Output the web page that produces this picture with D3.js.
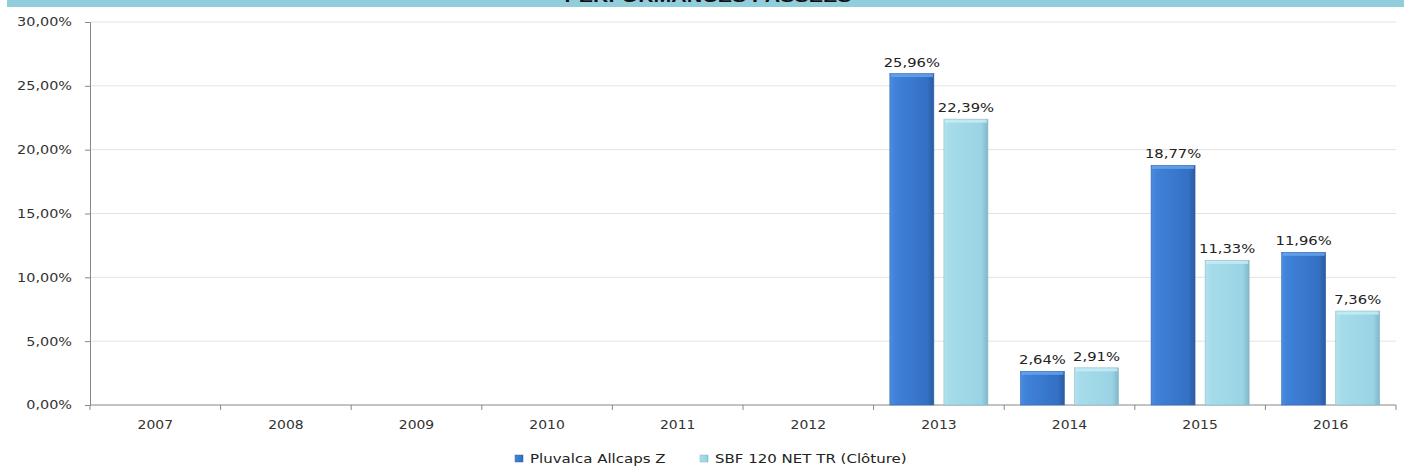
<!DOCTYPE html>
<meta charset="utf-8" />
<script src="https://d3js.org/d3.v7.js"></script>
<style>
  body { margin: 0; background: #fff; }
  text { font-family: "DejaVu Sans", Verdana, sans-serif; fill: #222; }
</style>
<div id="chart"></div>
<script>
  // data
  const years = ["2007", "2008", "2009", "2010", "2011", "2012", "2013", "2014", "2015", "2016"];
  const fund = [null, null, null, null, null, null, 25.96, 2.64, 18.77, 11.96];
  const index = [null, null, null, null, null, null, 22.39, 2.91, 11.33, 7.36];
  const seriesNames = ["Pluvalca Allcaps Z", "SBF 120 NET TR (Clôture)"];
  const yTicks = [0, 5, 10, 15, 20, 25, 30];

  const W = 1404, H = 468;
  const margin = { top: 22, right: 8, bottom: 63, left: 90 };
  const width = W - margin.left - margin.right,
    height = H - margin.top - margin.bottom;

  const svg = d3.select("#chart").append("svg")
    .attr("width", W).attr("height", H);

  // the source picture is stretched sideways, so widen the glyphs a bit.
  // anchor: 0 = start, 0.5 = middle, 1 = end (placed by hand, text-anchor start)
  function stretch(sel, k, anchor) {
    sel.each(function () {
      const t = d3.select(this);
      const len = this.getComputedTextLength();
      const x0 = +t.attr("x") || 0;
      t.attr("text-anchor", "start")
        .attr("x", x0 - anchor * len * k)
        .attr("textLength", len * k).attr("lengthAdjust", "spacingAndGlyphs");
    });
  }

  const defs = svg.append("defs");
  function grad(id, stops) {
    const g = defs.append("linearGradient").attr("id", id)
      .attr("x1", "0").attr("x2", "1").attr("y1", "0").attr("y2", "0");
    stops.forEach(s => g.append("stop").attr("offset", s[0]).attr("stop-color", s[1]));
  }
  grad("gBlue", [[0, "#4a8ce0"], [0.12, "#3f82d9"], [0.85, "#3470c4"], [1, "#2a5a9e"]]);
  grad("gLight", [[0, "#b3e2ee"], [0.12, "#a6dcea"], [0.85, "#9ad4e4"], [1, "#7fb8c8"]]);
  const fills = ["url(#gBlue)", "url(#gLight)"];
  const solid = ["#3b7bd3", "#a0d8e8"];
  const tops = ["#6aa6ec", "#c9eef7"];

  // header band
  svg.append("rect").attr("x", 7).attr("y", 0).attr("width", W - 7).attr("height", 7)
    .attr("fill", "#92cddc");
  svg.append("text").attr("x", 708).attr("y", 2)
    .attr("text-anchor", "middle").style("font-family", "Arial, 'Liberation Sans', sans-serif")
    .style("font-weight", "bold").style("font-size", "17px").style("fill", "#111")
    .attr("textLength", 287).attr("lengthAdjust", "spacingAndGlyphs")
    .text("PERFORMANCES PASSEES");

  const g = svg.append("g").attr("transform", `translate(${margin.left},${margin.top})`);

  const x = d3.scaleBand().domain(years).range([0, width]);
  const y = d3.scaleLinear().domain([0, 30]).range([height, 0]);

  const fmt = v => d3.format(".2f")(v).replace(".", ",") + "%";

  // grid
  g.selectAll(".grid").data(yTicks.slice(1)).join("line")
    .attr("x1", 0).attr("x2", width)
    .attr("y1", d => y(d)).attr("y2", d => y(d))
    .attr("stroke", "#e3e3e3").attr("stroke-width", 1);

  // y axis
  const yAxis = g.append("g")
    .call(d3.axisLeft(y).tickValues(yTicks).tickSize(5).tickPadding(0).tickFormat(v => fmt(v)));
  yAxis.select(".domain").attr("stroke", "#888");
  yAxis.selectAll(".tick line").attr("stroke", "#888");
  yAxis.selectAll("text").attr("x", -18).style("font-size", "12px").style("fill", "#333");
  stretch(yAxis.selectAll("text"), 1.2, 1);

  // x axis
  const xAxis = g.append("g").attr("transform", `translate(0,${height})`);
  xAxis.append("line").attr("x1", 0).attr("x2", width).attr("y1", 0).attr("y2", 0)
    .attr("stroke", "#888");
  xAxis.selectAll(".xt").data(years.concat(["end"])).join("line")
    .attr("x1", (d, i) => i * x.bandwidth()).attr("x2", (d, i) => i * x.bandwidth())
    .attr("y1", 0).attr("y2", 5).attr("stroke", "#888");
  const xl = xAxis.selectAll(".xl").data(years).join("text")
    .attr("x", d => x(d) + x.bandwidth() / 2).attr("y", 24)
    .style("font-size", "12px").style("fill", "#333")
    .text(d => d);
  stretch(xl, 1.16, 0.5);

  // bars
  const bw = x.bandwidth();
  const barW = bw * 0.337, gap = bw * 0.077, pad = (bw - 2 * barW - gap) / 2;
  const x1 = d3.scaleOrdinal().domain([0, 1]).range([pad, pad + barW + gap]);

  [fund, index].forEach((vals, s) => {
    const data = years.map((yr, i) => ({ yr, v: vals[i] })).filter(d => d.v != null);
    const bg = g.append("g");
    bg.selectAll("rect.bar").data(data).join("rect")
      .attr("x", d => x(d.yr) + x1(s)).attr("width", barW)
      .attr("y", d => y(d.v)).attr("height", d => y(0) - y(d.v))
      .attr("fill", fills[s]).attr("stroke", d3.color(solid[s]).darker(0.4)).attr("stroke-width", 0.6);
    bg.selectAll("rect.top").data(data).join("rect")
      .attr("x", d => x(d.yr) + x1(s) + 1).attr("width", barW - 2)
      .attr("y", d => y(d.v) + 0.5).attr("height", 3)
      .attr("fill", tops[s]).attr("opacity", 0.8);
    const lab = bg.selectAll("text").data(data).join("text")
      .attr("x", d => x(d.yr) + x1(s) + barW / 2).attr("y", d => y(d.v) - 7)
      .style("font-size", "12.5px").style("fill", "#222")
      .text(d => fmt(d.v));
    stretch(lab, 1.18, 0.5);
  });

  // legend
  const lg = svg.append("g").attr("transform", "translate(515,455)");
  const lx = [0, 185];
  seriesNames.forEach((n, i) => {
    lg.append("rect").attr("x", lx[i]).attr("y", 0).attr("width", 8).attr("height", 7)
      .attr("fill", fills[i]).attr("stroke", d3.color(solid[i]).darker(0.5)).attr("stroke-width", 0.5);
    const t = lg.append("text").attr("x", lx[i] + 15).attr("y", 8)
      .style("font-size", "12px").style("fill", "#222").text(n);
    stretch(t, 1.25, 0);
  });
</script>
